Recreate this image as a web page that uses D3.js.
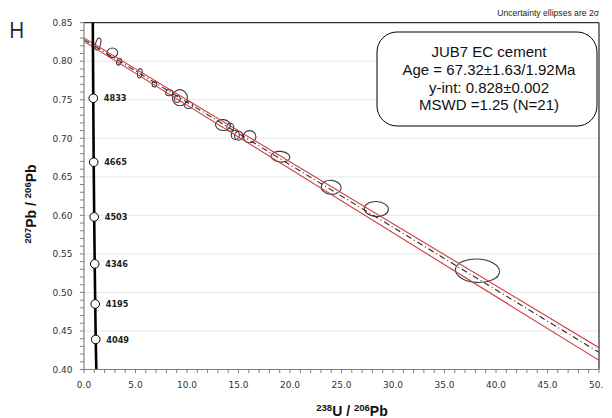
<!DOCTYPE html>
<html><head><meta charset="utf-8">
<script src="https://cdn.jsdelivr.net/npm/d3@7"></script>
<style>
html,body{margin:0;padding:0;background:#fff;}
svg{display:block;}
</style></head>
<body>
<svg id="c" width="612" height="418"></svg>
<script>
// ---- data ----
const xTicks = [0,5,10,15,20,25,30,35,40,45,50];
const yTicks = [0.40,0.45,0.50,0.55,0.60,0.65,0.70,0.75,0.80,0.85];
// measured ellipses: centre (238U/206Pb, 207Pb/206Pb), 2-sigma half widths, tilt (deg)
const ellX  = [1.36, 2.75, 3.40, 5.42, 6.84, 8.27, 9.31, 9.05, 10.15, 13.49, 14.20, 14.69, 15.01, 16.08, 19.07, 24.00, 28.38, 38.20];
const ellY  = [0.8223,0.8111,0.7994,0.7843,0.7704,0.7592,0.7527,0.7510,0.7432,0.7172,0.7143,0.7043,0.7034,0.7021,0.6761,0.6364,0.6083,0.5282];
const ellSX = [0.24, 0.52, 0.22, 0.22, 0.22, 0.34, 0.73, 0.29, 0.42, 0.73, 0.34, 0.39, 0.39, 0.61, 0.92, 0.97, 1.17, 2.14];
const ellSY = [0.0078,0.0061,0.0045,0.0061,0.0039,0.0039,0.0104,0.0045,0.0045,0.0071,0.0052,0.0058,0.0058,0.0078,0.0069,0.0091,0.0097,0.0152];
const ellTilt = [15, 0, 20, 10, 10, 0, 0, 0, 0, 8, 0, 0, 0, 0, 5, 5, 3, 3];
// concordia
const concCurveX = [0.85, 0.90, 0.94, 0.99, 1.04, 1.09, 1.14, 1.21];
const concCurveY = [0.86, 0.752, 0.669, 0.598, 0.537, 0.485, 0.439, 0.39];
const concAges = [4833, 4665, 4503, 4346, 4195, 4049];
const concX = [0.90, 0.94, 0.99, 1.04, 1.09, 1.14];
const concY = [0.752, 0.669, 0.598, 0.537, 0.485, 0.439];
// regression line and envelope (x at 0 and 50)
const regX = [0, 50];
const regY = [0.828, 0.4222];
const envUpperY = [0.8302, 0.4283];
const envLowerY = [0.8258, 0.4118];
const boxLines = ["JUB7 EC cement", "Age = 67.32\u00b11.63/1.92Ma", "y-int: 0.828\u00b10.002", "MSWD =1.25 (N=21)"];

// ---- layout ----
const L = 84, R = 599, T = 22.7, B = 369.5;
const svg = d3.select("#c");
const x = d3.scaleLinear().domain([0,50]).range([L,R]);
const y = d3.scaleLinear().domain([0.40,0.85]).range([B,T]);

const defs = svg.append("defs");
defs.append("clipPath").attr("id","clip")
  .append("rect").attr("x",L).attr("y",T).attr("width",R-L).attr("height",B-T);
defs.append("clipPath").attr("id","clipPage")
  .append("rect").attr("x",0).attr("y",0).attr("width",603).attr("height",418);

// gridlines
svg.append("g").selectAll("line").data(yTicks.filter(v=>v>0.401 && v<0.849)).join("line")
  .attr("x1",L).attr("x2",R).attr("y1",d=>y(d)).attr("y2",d=>y(d))
  .attr("stroke","#e6e6e6").attr("stroke-width",1);

// frame top & right
svg.append("line").attr("x1",L).attr("x2",R).attr("y1",T).attr("y2",T).attr("stroke","#000").attr("stroke-width",1);
svg.append("line").attr("x1",R).attr("x2",R).attr("y1",T).attr("y2",B).attr("stroke","#000").attr("stroke-width",1);

const plot = svg.append("g").attr("clip-path","url(#clip)");

// ellipses
const ell = ellX.map((v,i)=>({x:v,y:ellY[i],sx:ellSX[i],sy:ellSY[i],t:ellTilt[i]}));
plot.append("g").selectAll("ellipse").data(ell).join("ellipse")
  .attr("cx",0).attr("cy",0)
  .attr("rx",d=>x(d.sx)-x(0)).attr("ry",d=>y(0.40)-y(0.40+d.sy))
  .attr("transform",d=>`translate(${x(d.x)},${y(d.y)}) rotate(${d.t})`)
  .attr("fill","none").attr("stroke","#3a3a3a").attr("stroke-width",1.1);

// regression envelope
const line = d3.line().x(d=>x(d[0])).y(d=>y(d[1]));
[envUpperY, envLowerY].forEach(arr=>{
  plot.append("path").attr("d",line(regX.map((v,i)=>[v,arr[i]])))
    .attr("fill","none").attr("stroke","#d23a3a").attr("stroke-width",1.1);
});
plot.append("path").attr("d",line(regX.map((v,i)=>[v,regY[i]])))
  .attr("fill","none").attr("stroke","#2a2a2a").attr("stroke-width",1.1)
  .attr("stroke-dasharray","6,3,1,3");

// concordia
const cl = d3.line().x(d=>x(d[0])).y(d=>y(d[1])).curve(d3.curveCatmullRom);
plot.append("path").attr("d",cl(concCurveX.map((v,i)=>[v,concCurveY[i]])))
  .attr("fill","none").attr("stroke","#000").attr("stroke-width",2.6);
const cp = concAges.map((a,i)=>({a,x:concX[i],y:concY[i]}));
svg.append("g").selectAll("circle").data(cp).join("circle")
  .attr("cx",d=>x(d.x)).attr("cy",d=>y(d.y)).attr("r",4.3)
  .attr("fill","#fff").attr("stroke","#000").attr("stroke-width",1);
svg.append("g").selectAll("text").data(cp).join("text")
  .attr("x",d=>x(d.x)+10.5).attr("y",d=>y(d.y)+3.2)
  .attr("font-family","DejaVu Sans").attr("font-weight","bold").attr("font-size",8.2)
  .attr("fill","#222").text(d=>d.a);

// axes
const axCol = "#808080";
svg.append("line").attr("x1",L).attr("x2",L).attr("y1",T).attr("y2",B).attr("stroke",axCol).attr("stroke-width",1.2);
svg.append("line").attr("x1",L).attr("x2",R).attr("y1",B).attr("y2",B).attr("stroke",axCol).attr("stroke-width",1.2);
const yMinor = d3.range(40,86).map(v=>v/100);
svg.append("g").selectAll("line").data(yMinor).join("line")
  .attr("x1",L-4).attr("x2",L).attr("y1",d=>y(d)).attr("y2",d=>y(d))
  .attr("stroke",axCol).attr("stroke-width",1);
const xMinor = d3.range(0,51);
svg.append("g").selectAll("line").data(xMinor).join("line")
  .attr("x1",d=>x(d)).attr("x2",d=>x(d)).attr("y1",B).attr("y2",B+3.5)
  .attr("stroke",axCol).attr("stroke-width",1);
svg.append("g").selectAll("text").data(yTicks).join("text")
  .attr("x",L-11.5).attr("y",d=>y(d)+3.2).attr("text-anchor","end")
  .attr("font-family","DejaVu Sans").attr("font-size",9).attr("fill","#333")
  .text(d=>d3.format(".2f")(d));
svg.append("g").attr("clip-path","url(#clipPage)").selectAll("text").data(xTicks).join("text")
  .attr("x",d=>x(d)).attr("y",B+18).attr("text-anchor","middle")
  .attr("font-family","DejaVu Sans").attr("font-size",9).attr("fill","#333")
  .text(d=>d3.format(".1f")(d));

// axis titles
const xt = svg.append("text").attr("x",352).attr("y",416).attr("text-anchor","middle")
  .attr("font-family","Liberation Sans, Arial").attr("font-weight","bold").attr("fill","#111");
xt.append("tspan").attr("font-size",9.5).attr("dy",-5).text("238");
xt.append("tspan").attr("font-size",14).attr("dy",5).text("U / ");
xt.append("tspan").attr("font-size",9.5).attr("dy",-5).text("206");
xt.append("tspan").attr("font-size",14).attr("dy",5).text("Pb");

const yt = svg.append("text").attr("transform","translate(36,204) rotate(-90)").attr("text-anchor","middle")
  .attr("font-family","Liberation Sans, Arial").attr("font-weight","bold").attr("fill","#111");
yt.append("tspan").attr("font-size",9.5).attr("dy",-5).text("207");
yt.append("tspan").attr("font-size",14).attr("dy",5).text("Pb / ");
yt.append("tspan").attr("font-size",9.5).attr("dy",-5).text("206");
yt.append("tspan").attr("font-size",14).attr("dy",5).text("Pb");

// panel letter
svg.append("text").attr("x",9).attr("y",38).attr("font-family","Open Sans").attr("font-size",21)
  .attr("fill","#222").text("H");

// note
svg.append("text").attr("x",599).attr("y",16).attr("text-anchor","end")
  .attr("font-family","Liberation Sans, Arial").attr("font-size",8.6).attr("fill","#222")
  .text("Uncertainty ellipses are 2\u03c3");

// result box
svg.append("rect").attr("x",377).attr("y",32).attr("width",220).attr("height",94).attr("rx",20).attr("ry",20)
  .attr("fill","#fff").attr("stroke","#000").attr("stroke-width",1);
svg.append("g").selectAll("text").data(boxLines).join("text")
  .attr("x",489).attr("y",(d,i)=>57+i*17.8).attr("text-anchor","middle")
  .attr("font-family","Liberation Sans, Arial").attr("font-size",15).attr("fill","#111")
  .text(d=>d);
</script>
</body></html>
